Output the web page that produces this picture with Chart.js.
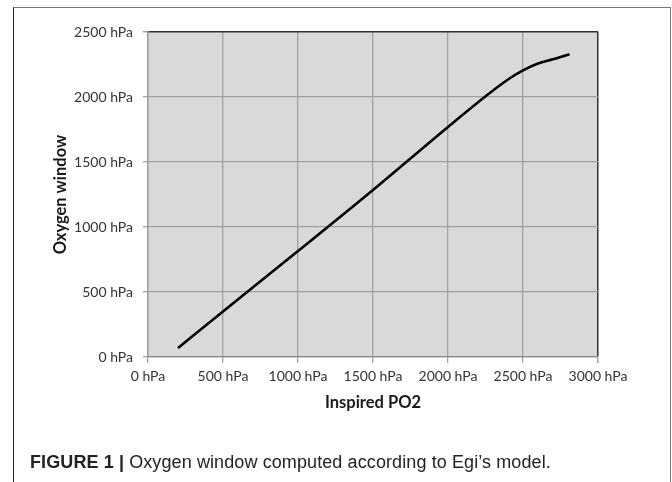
<!DOCTYPE html>
<html>
<head>
<meta charset="utf-8">
<script src="https://cdn.jsdelivr.net/npm/chart.js@4/dist/chart.umd.min.js"></script>
<style>
  html, body { margin: 0; padding: 0; background: #fff; }
  #wrap { position: relative; width: 672px; height: 482px; overflow: hidden; }
  #frame {
    position: absolute; left: 13px; top: 7px; width: 656px; height: 500px;
    border-top: 1.5px solid #777; border-left: 1.5px solid #222; border-right: 1.5px solid #777;
  }
  #chart { position: absolute; left: 0; top: 0; }
  #caption {
    position: absolute; left: 30px; top: 452px;
    font-family: "Liberation Sans", Arial, sans-serif; font-size: 18px; color: #222;
    white-space: nowrap; letter-spacing: 0.1px;
  }
  #caption b { font-weight: bold; }
</style>
</head>
<body>
<div id="wrap">
  <div id="frame"></div>
  <canvas id="chart" width="672" height="482"></canvas>
  <div id="caption"><b>FIGURE 1 |</b> Oxygen window computed according to Egi’s model.</div>
</div>
<script>
// Inspired PO2 (hPa) vs oxygen window (hPa)
const inspiredPO2 = [200, 500, 1000, 1500, 2000, 2300, 2420, 2500, 2600, 2700, 2810];
const oxygenWindow = [70, 350, 815, 1285, 1770, 2050, 2150, 2205, 2258, 2290, 2328];

const xTicks = [0, 500, 1000, 1500, 2000, 2500, 3000];
const yTicks = [0, 500, 1000, 1500, 2000, 2500];

const plotBg = {
  id: 'plotBg',
  beforeDraw(chart) {
    const { ctx, chartArea: a } = chart;
    ctx.save();
    ctx.fillStyle = '#d9d9d9';
    ctx.fillRect(a.left, a.top, a.right - a.left, a.bottom - a.top);
    ctx.restore();
  }
};

const tickFont = { family: 'Lato, "Open Sans", sans-serif', size: 14 };
const titleFont = { family: 'Lato, "Open Sans", sans-serif', size: 16.5, weight: 'bold' };

new Chart(document.getElementById('chart'), {
  type: 'line',
  data: {
    datasets: [{
      data: inspiredPO2.map((x, i) => ({ x, y: oxygenWindow[i] })),
      borderColor: '#000',
      borderWidth: 2.6,
      pointRadius: 0,
      fill: false,
      cubicInterpolationMode: 'monotone'
    }]
  },
  options: {
    responsive: false,
    animation: false,
    layout: { padding: { left: 0, top: 32, right: 74, bottom: 65 } },
    plugins: { legend: { display: false }, tooltip: { enabled: false } },
    scales: {
      x: {
        type: 'linear',
        min: 0, max: 3000,
        afterBuildTicks: s => { s.ticks = xTicks.map(v => ({ value: v })); },
        afterFit: s => { s.height = 60; },
        ticks: { color: '#333', font: tickFont, padding: 5, callback: v => v + ' hPa' },
        grid: {
          color: c => c.tick && c.tick.value === 3000 ? '#333' : '#a0a0a0',
          lineWidth: c => c.tick && c.tick.value === 3000 ? 1.5 : 1.3,
          drawTicks: true, tickLength: 6, tickColor: '#a0a0a0'
        },
        border: { color: '#888', width: 1.3 },
        title: { display: true, text: 'Inspired PO2', color: '#1a1a1a', font: titleFont, padding: { top: 4, bottom: 4 } }
      },
      y: {
        min: 0, max: 2500,
        afterBuildTicks: s => { s.ticks = yTicks.map(v => ({ value: v })); },
        afterFit: s => { s.width = 148; },
        ticks: { color: '#333', font: tickFont, padding: 10, callback: v => v + ' hPa' },
        grid: {
          color: c => c.tick && c.tick.value === 2500 ? '#333' : '#a0a0a0',
          lineWidth: c => c.tick && c.tick.value === 2500 ? 1.5 : 1.3,
          drawTicks: true, tickLength: 5, tickColor: '#a0a0a0'
        },
        border: { color: '#999', width: 1.3 },
        title: { display: true, text: 'Oxygen window', color: '#1a1a1a', font: titleFont, padding: { top: 51, bottom: 0 } }
      }
    }
  },
  plugins: [plotBg]
});
</script>
</body>
</html>
